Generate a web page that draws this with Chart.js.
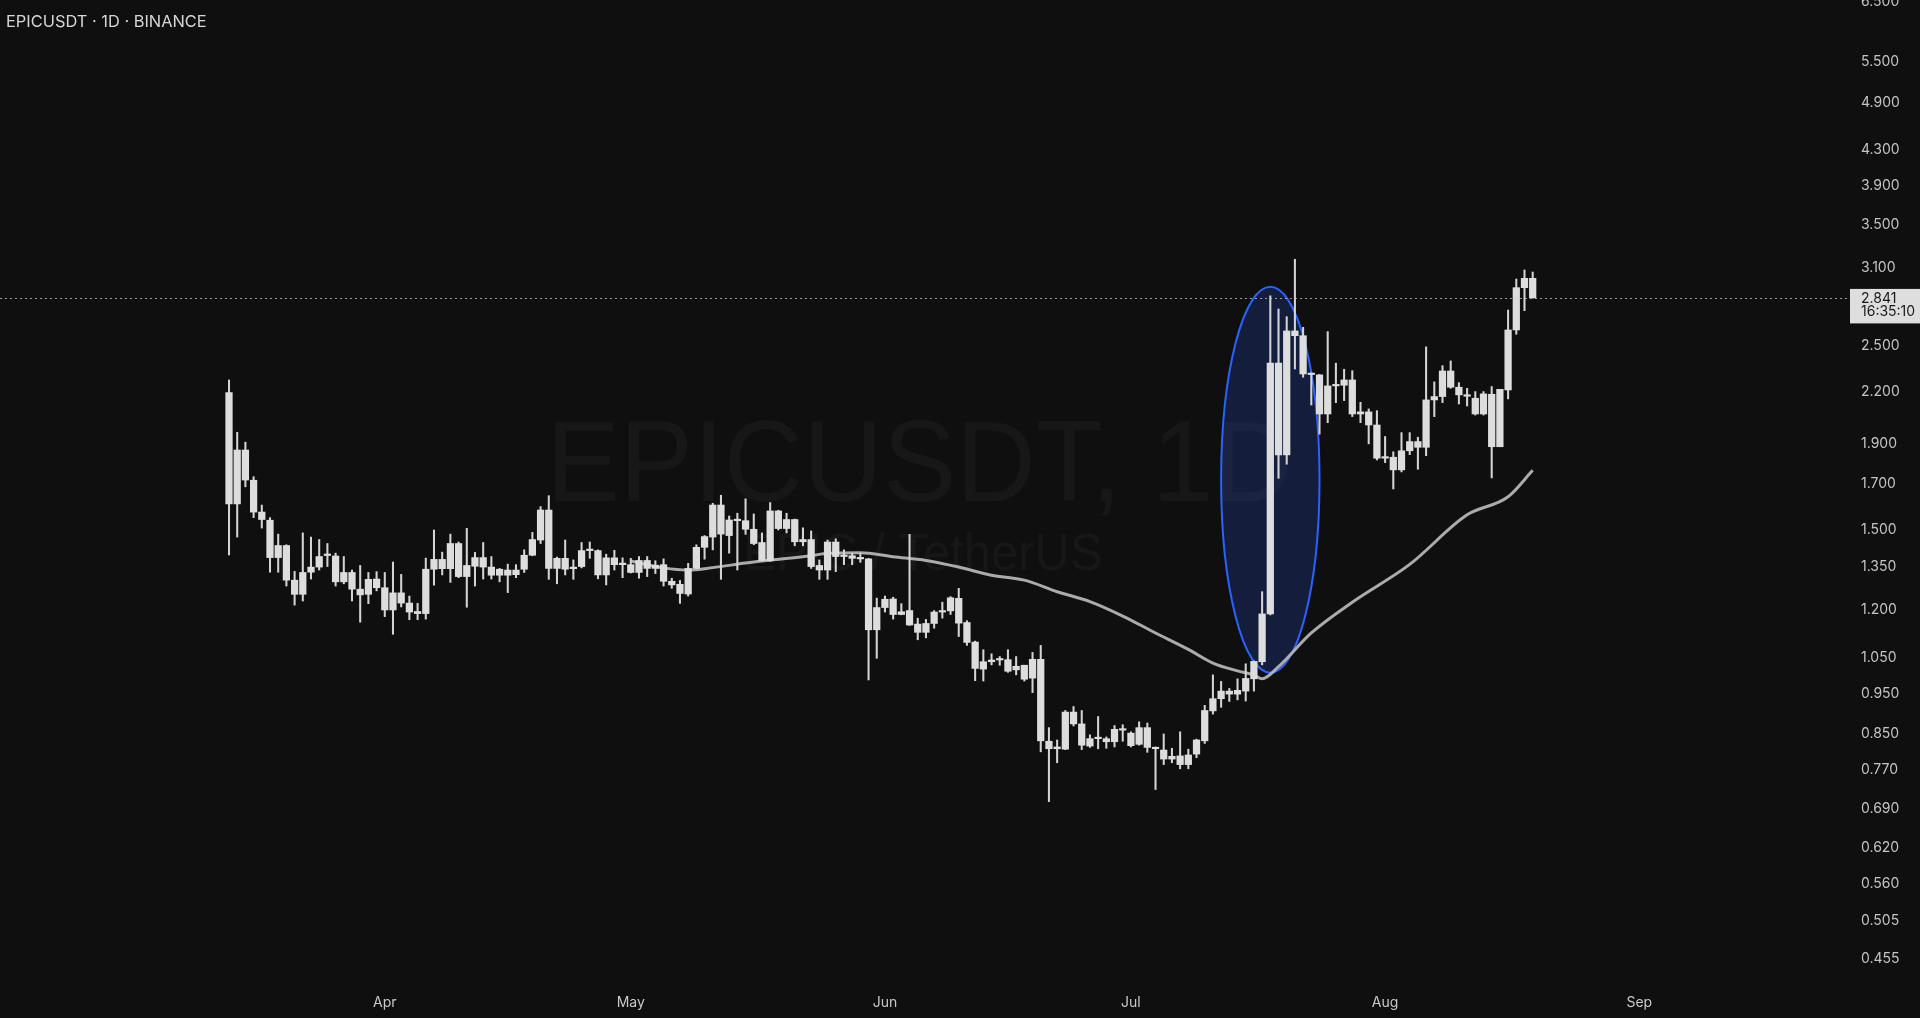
<!DOCTYPE html>
<html>
<head>
<meta charset="utf-8">
<script src="https://cdn.jsdelivr.net/npm/chart.js@4.4.1/dist/chart.umd.min.js"></script>
<style>
  html, body { margin: 0; padding: 0; background: #0f0f0f; overflow: hidden; }
  #wrap { position: relative; width: 1920px; height: 1018px; }
</style>
</head>
<body>
<div id="wrap"><canvas id="chart" width="1920" height="1018"></canvas></div>
<script>
// EPICUSDT daily candles, index 0 = Mar 13
const symbolTitle = 'EPICUSDT · 1D · BINANCE';
const watermarkMain = 'EPICUSDT, 1D';
const watermarkSub = 'EPIC / TetherUS';

const openP = [2.184,1.603,1.862,1.712,1.567,1.532,1.381,1.428,1.297,1.247,
  1.326,1.345,1.389,1.387,1.291,1.325,1.265,1.247,1.301,1.270,
  1.194,1.252,1.217,1.189,1.182,1.337,1.374,1.339,1.436,1.310,
  1.348,1.381,1.345,1.315,1.334,1.317,1.337,1.390,1.450,1.576,
  1.340,1.378,1.339,1.347,1.408,1.408,1.316,1.380,1.354,1.354,
  1.325,1.370,1.340,1.354,1.293,1.282,1.248,1.340,1.421,1.462,
  1.598,1.468,1.533,1.530,1.494,1.440,1.369,1.572,1.497,1.535,
  1.443,1.452,1.351,1.334,1.442,1.385,1.388,1.378,1.376,1.130,
  1.202,1.231,1.179,1.192,1.148,1.122,1.150,1.187,1.191,1.233,
  1.153,1.092,1.013,1.034,1.039,1.040,1.011,1.024,0.988,1.041,
  0.829,0.812,0.811,0.899,0.870,0.818,0.835,0.835,0.828,0.857,
  0.848,0.822,0.861,0.815,0.809,0.789,0.796,0.777,0.800,0.830,
  0.902,0.933,0.953,0.945,0.953,0.986,1.034,1.181,2.370,1.837,
  2.592,2.558,2.300,2.294,2.058,2.225,2.229,2.262,2.058,2.070,
  1.996,1.820,1.825,1.762,1.858,1.906,1.876,2.140,2.160,2.319,
  2.217,2.170,2.150,2.058,2.174,1.879,2.200,2.599,2.923,3.000];

const highP = [2.262,1.956,1.903,1.729,1.598,1.543,1.474,1.431,1.329,1.479,
  1.462,1.452,1.436,1.398,1.385,1.334,1.351,1.325,1.328,1.325,
  1.364,1.318,1.241,1.216,1.379,1.491,1.402,1.474,1.442,1.498,
  1.401,1.440,1.385,1.340,1.356,1.354,1.411,1.481,1.591,1.640,
  1.383,1.450,1.372,1.440,1.442,1.411,1.394,1.409,1.380,1.378,
  1.385,1.385,1.369,1.376,1.304,1.296,1.359,1.431,1.468,1.606,
  1.642,1.550,1.562,1.626,1.559,1.479,1.609,1.575,1.562,1.537,
  1.500,1.487,1.372,1.450,1.455,1.411,1.398,1.398,1.378,1.234,
  1.241,1.237,1.215,1.473,1.167,1.163,1.192,1.220,1.239,1.268,
  1.159,1.095,1.069,1.057,1.049,1.069,1.049,1.024,1.061,1.082,
  0.861,0.832,0.903,0.913,0.903,0.844,0.888,0.839,0.866,0.868,
  0.851,0.875,0.872,0.816,0.846,0.813,0.851,0.811,0.834,0.916,
  0.997,0.979,0.960,0.986,1.028,1.036,1.256,2.857,2.755,2.697,
  3.163,2.618,2.307,2.297,2.587,2.370,2.330,2.321,2.126,2.087,
  2.077,1.933,1.853,1.954,1.954,1.929,2.480,2.250,2.354,2.385,
  2.245,2.210,2.190,2.190,2.221,2.204,2.747,2.994,3.070,3.053];

const lowP = [1.391,1.462,1.681,1.543,1.499,1.326,1.326,1.276,1.210,1.224,
  1.301,1.334,1.347,1.276,1.284,1.224,1.154,1.215,1.259,1.172,
  1.116,1.204,1.162,1.162,1.164,1.279,1.316,1.289,1.306,1.203,
  1.276,1.301,1.301,1.291,1.253,1.306,1.325,1.388,1.436,1.300,
  1.284,1.316,1.300,1.342,1.378,1.302,1.280,1.334,1.306,1.323,
  1.304,1.310,1.321,1.276,1.268,1.216,1.241,1.339,1.375,1.411,
  1.300,1.398,1.334,1.473,1.431,1.368,1.367,1.491,1.479,1.427,
  1.427,1.340,1.300,1.300,1.328,1.354,1.354,1.363,0.983,1.044,
  1.187,1.164,1.178,1.144,1.099,1.105,1.135,1.167,1.179,1.109,
  1.082,0.981,0.980,1.025,1.024,1.004,0.997,0.980,0.949,0.805,
  0.701,0.781,0.810,0.865,0.810,0.815,0.812,0.813,0.816,0.829,
  0.816,0.820,0.804,0.725,0.777,0.781,0.768,0.768,0.792,0.824,
  0.894,0.911,0.926,0.930,0.927,0.953,1.025,1.178,1.721,1.790,
  2.332,2.279,2.110,1.946,2.009,2.124,2.136,2.043,2.009,1.894,
  1.811,1.798,1.671,1.752,1.838,1.765,1.833,2.043,2.124,2.210,
  2.116,2.104,2.052,2.052,1.723,1.879,2.146,2.568,2.742,2.841];

const closeP = [1.603,1.862,1.713,1.567,1.535,1.381,1.428,1.297,1.247,1.325,
  1.345,1.385,1.394,1.291,1.325,1.265,1.245,1.300,1.270,1.194,
  1.252,1.217,1.187,1.182,1.337,1.374,1.339,1.436,1.310,1.351,
  1.381,1.345,1.315,1.337,1.315,1.334,1.390,1.452,1.576,1.340,
  1.378,1.337,1.345,1.408,1.413,1.316,1.380,1.354,1.360,1.325,
  1.370,1.340,1.352,1.293,1.280,1.250,1.340,1.421,1.464,1.598,
  1.474,1.533,1.530,1.494,1.436,1.369,1.572,1.497,1.535,1.443,
  1.452,1.347,1.334,1.442,1.385,1.388,1.378,1.376,1.130,1.202,
  1.230,1.179,1.188,1.145,1.122,1.150,1.187,1.190,1.235,1.151,
  1.091,1.015,1.034,1.039,1.041,1.007,1.021,0.985,1.041,0.830,
  0.812,0.816,0.899,0.870,0.820,0.835,0.836,0.828,0.857,0.855,
  0.819,0.861,0.815,0.812,0.789,0.795,0.777,0.798,0.832,0.903,
  0.933,0.953,0.945,0.955,0.987,1.035,1.181,2.370,1.837,2.592,
  2.558,2.300,2.296,2.058,2.225,2.229,2.262,2.058,2.070,1.996,
  1.820,1.828,1.762,1.858,1.906,1.876,2.140,2.160,2.319,2.217,
  2.170,2.162,2.058,2.176,1.879,2.204,2.599,2.923,3.000,2.841];

// moving average at these candle indexes
const maDays = [49,53,56,59,63,66,71,73,77,81,85,89,93,97,101,105,109,113,117,120,123,125,126,128,132,137,144,151,156,159];
const maValues = [1.368,1.342,1.334,1.343,1.360,1.371,1.388,1.398,1.400,1.384,1.370,1.345,1.315,1.297,1.256,1.222,1.174,1.120,1.070,1.030,1.008,0.997,0.986,1.020,1.120,1.220,1.355,1.555,1.635,1.760];

// month ticks (candle index of the 1st)
const monthDays = [19, 49, 80, 110, 141, 172];
const monthLabels = ['Apr', 'May', 'Jun', 'Jul', 'Aug', 'Sep'];

const priceTicks = [0.455,0.505,0.56,0.62,0.69,0.77,0.85,0.95,1.05,1.2,1.35,1.5,1.7,1.9,2.2,2.5,3.1,3.5,3.9,4.3,4.9,5.5,6.5];

const lastPrice = 2.841;
const countdown = '16:35:10';

// highlight ellipse around the breakout
const ellipseDay = 127;
const ellipseHalfDays = 6;
const ellipseHigh = 2.93;
const ellipseLow = 1.003;

const FONT = 'Inter, "Noto Sans", sans-serif';
const BG = '#0f0f0f';

const wicks = highP.map((h, i) => ({ x: i, y: [lowP[i], h] }));
const bodies = openP.map((o, i) => ({ x: i, y: [o, closeP[i]] }));
const maLine = maDays.map((d, i) => ({ x: d, y: maValues[i] }));

function drawFitted(ctx, text, font, left, right, baseline) {
  ctx.font = font;
  const m = ctx.measureText(text);
  const ink = m.actualBoundingBoxLeft + m.actualBoundingBoxRight;
  const sx = (right - left) / ink;
  ctx.save();
  ctx.translate(left, baseline);
  ctx.scale(sx, 1);
  ctx.fillText(text, m.actualBoundingBoxLeft, 0);
  ctx.restore();
}

const overlay = {
  id: 'overlay',
  beforeDraw(chart) {
    const ctx = chart.ctx;
    ctx.save();
    ctx.fillStyle = BG;
    ctx.fillRect(0, 0, chart.width, chart.height);
    // watermark
    ctx.fillStyle = 'rgba(255,255,255,0.035)';
    ctx.textAlign = 'left';
    ctx.textBaseline = 'alphabetic';
    drawFitted(ctx, watermarkMain, '400 115px "Liberation Sans", Arial, sans-serif', 555, 1288, 501);
    drawFitted(ctx, watermarkSub, '400 52px "Liberation Sans", Arial, sans-serif', 747, 1101, 570);
    ctx.restore();
  },
  beforeDatasetsDraw(chart) {
    const { ctx, scales: { x, y } } = chart;
    const cx = x.getPixelForValue(ellipseDay);
    const rx = x.getPixelForValue(ellipseDay + ellipseHalfDays) - cx;
    const top = y.getPixelForValue(ellipseHigh);
    const bot = y.getPixelForValue(ellipseLow);
    ctx.save();
    ctx.beginPath();
    ctx.ellipse(cx, (top + bot) / 2, rx, (bot - top) / 2, 0, 0, Math.PI * 2);
    ctx.fillStyle = 'rgba(41, 98, 255, 0.19)';
    ctx.fill();
    ctx.lineWidth = 2;
    ctx.strokeStyle = '#2962ff';
    ctx.stroke();
    ctx.restore();
  },
  afterDraw(chart) {
    const { ctx, chartArea, scales: { y } } = chart;
    const py = y.getPixelForValue(lastPrice);
    ctx.save();
    // last price dotted line
    ctx.strokeStyle = 'rgba(200,200,200,0.75)';
    ctx.lineWidth = 1;
    ctx.setLineDash([2, 3]);
    ctx.beginPath();
    ctx.moveTo(chartArea.left, Math.round(py) + 0.5);
    ctx.lineTo(chartArea.right, Math.round(py) + 0.5);
    ctx.stroke();
    ctx.setLineDash([]);
    // price label
    ctx.fillStyle = '#dedede';
    ctx.fillRect(chartArea.right, py - 9, chart.width - chartArea.right, 34.5);
    ctx.fillStyle = '#1a1a1a';
    ctx.textAlign = 'left';
    ctx.textBaseline = 'middle';
    ctx.font = '14px ' + FONT;
    ctx.fillText(lastPrice.toFixed(3), chartArea.right + 11, py + 0.5);
    ctx.fillText(countdown, chartArea.right + 11, py + 13.5);
    // title
    ctx.fillStyle = '#d6d6d6';
    ctx.font = '16.4px ' + FONT;
    ctx.textBaseline = 'alphabetic';
    ctx.fillText(symbolTitle, 6, 27);
    ctx.restore();
  }
};

new Chart(document.getElementById('chart'), {
  type: 'bar',
  data: {
    datasets: [
      {
        type: 'line',
        data: maLine,
        borderColor: 'rgba(185,185,185,0.92)',
        borderWidth: 3,
        pointRadius: 0,
        cubicInterpolationMode: 'monotone',
        order: 3
      },
      {
        data: wicks,
        backgroundColor: '#d4d4d4',
        barThickness: 1.4,
        grouped: false,
        order: 2
      },
      {
        data: bodies,
        backgroundColor: '#dddddd',
        barThickness: 6.6,
        minBarLength: 1.5,
        grouped: false,
        order: 1
      }
    ]
  },
  options: {
    responsive: false,
    animation: false,
    devicePixelRatio: 1,
    layout: { padding: 0 },
    plugins: { legend: { display: false }, tooltip: { enabled: false } },
    scales: {
      x: {
        type: 'linear',
        min: -27.93,
        max: 197.7,
        offset: false,
        grid: { display: false, drawTicks: false },
        border: { display: false },
        afterBuildTicks: (scale) => { scale.ticks = monthDays.map(v => ({ value: v })); },
        afterFit: (scale) => { scale.height = 38; scale.paddingLeft = 0; scale.paddingRight = 0; },
        ticks: {
          autoSkip: false,
          maxRotation: 0,
          padding: 14,
          color: '#c9c9c9',
          font: { family: FONT, size: 14 },
          callback: (v) => monthLabels[monthDays.indexOf(v)] || ''
        }
      },
      y: {
        type: 'logarithmic',
        position: 'right',
        min: 0.4271,
        max: 6.5,
        grid: { display: false, drawTicks: false },
        border: { display: false },
        afterBuildTicks: (scale) => { scale.ticks = priceTicks.map(v => ({ value: v })); },
        afterFit: (scale) => { scale.width = 70; scale.paddingTop = 0; scale.paddingBottom = 0; },
        ticks: {
          autoSkip: false,
          padding: 11,
          labelOffset: 1.5,
          color: '#c4c4c4',
          font: { family: FONT, size: 14 },
          callback: (v) => Number(v).toFixed(3)
        }
      }
    }
  },
  plugins: [overlay]
});
</script>
</body>
</html>
